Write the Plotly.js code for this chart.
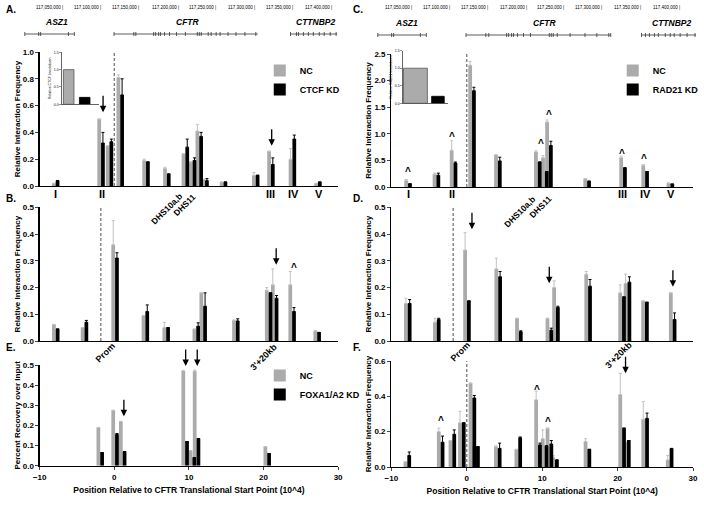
<!DOCTYPE html>
<html><head><meta charset="utf-8">
<script src="https://cdn.plot.ly/plotly-3.0.1.min.js"></script>
<style>html,body{margin:0;padding:0;background:#fff}#chart{width:704px;height:528px}</style>
</head><body><div id="chart"></div>
<script>
// ---------------- DATA ----------------
// Panel A (CTCF KD)
const posA = [-7.85, -1.77, -0.64, 0.8, 4.26, 7.05, 9.53, 10.5, 11.39, 12.17, 14.65, 18.96, 21.0, 23.88, 27.3];
const ncA  = [0.02, 0.50, 0.30, 0.81, 0.19, 0.13, 0.24, 0.18, 0.41, 0.05, 0.03, 0.08, 0.26, 0.20, 0.02];
const ncAe = [0, 0, 0, 0.02, 0.01, 0.01, 0, 0, 0.05, 0, 0, 0.02, 0, 0.08, 0];
const kdA  = [0.04, 0.32, 0.33, 0.68, 0.18, 0.09, 0.29, 0.19, 0.37, 0.04, 0.03, 0.08, 0.16, 0.35, 0.03];
const kdAe = [0, 0.08, 0.02, 0.12, 0, 0, 0.06, 0.02, 0.03, 0.015, 0, 0, 0.05, 0.03, 0];
// Panel B
const posB = [-7.84, -3.99, 0.11, 4.17, 6.96, 10.99, 11.92, 16.3, 20.69, 21.5, 23.84, 27.2];
const ncB  = [0.062, 0.05, 0.36, 0.095, 0.05, 0.045, 0.18, 0.078, 0.19, 0.21, 0.21, 0.038];
const ncBe = [0, 0, 0.09, 0, 0.02, 0, 0, 0, 0.01, 0.06, 0.05, 0];
const kdB  = [0.045, 0.07, 0.31, 0.11, 0.05, 0.055, 0.13, 0.075, 0.18, 0.16, 0.11, 0.032];
const kdBe = [0, 0.007, 0.02, 0.025, 0, 0.013, 0.05, 0.008, 0, 0.01, 0.015, 0];
// Panel E (FOXA1/A2 KD)
const posE = [-1.88, 0.11, 1.13, 9.5, 10.48, 11.03, 20.5];
const ncE  = [0.19, 0.275, 0.22, 0.47, 0.075, 0.47, 0.095];
const ncEe = [0, 0, 0, 0.003, 0, 0.005, 0];
const kdE  = [0.065, 0.155, 0.07, 0.12, 0.04, 0.135, 0.06];
const kdEe = [0, 0.005, 0, 0, 0, 0, 0];
// Panel C (RAD21 KD)
const posC = [-7.78, -4.02, -1.75, 0.7, 4.13, 9.42, 10.36, 10.9, 15.96, 20.72, 23.65, 27.0];
const ncC  = [0.12, 0.24, 0.69, 2.29, 0.60, 0.66, 0.55, 1.22, 0.156, 0.55, 0.41, 0.075];
const ncCe = [0.02, 0.02, 0.18, 0.07, 0.01, 0.02, 0.04, 0.04, 0, 0.03, 0.01, 0];
const kdC  = [0.06, 0.22, 0.45, 1.81, 0.49, 0.47, 0.29, 0.78, 0.11, 0.36, 0.29, 0.056];
const kdCe = [0, 0.04, 0.02, 0.065, 0.07, 0, 0, 0.08, 0, 0, 0, 0];
// Panel D
const posD = [-7.82, -3.97, 0.03, 4.17, 6.91, 10.95, 11.83, 16.09, 20.59, 21.31, 23.63, 27.3];
const ncD  = [0.14, 0.07, 0.34, 0.27, 0.085, 0.085, 0.20, 0.25, 0.18, 0.215, 0.15, 0.18];
const ncDe = [0.02, 0.015, 0.065, 0.04, 0, 0, 0.025, 0.01, 0.03, 0.035, 0, 0];
const kdD  = [0.14, 0.08, 0.15, 0.24, 0.035, 0.04, 0.125, 0.205, 0.165, 0.22, 0.145, 0.08];
const kdDe = [0.015, 0.005, 0, 0.02, 0.003, 0.008, 0.005, 0.025, 0, 0.02, 0, 0.025];
// Panel F
const posF = [-7.88, -3.46, -1.91, -0.65, 0.75, 1.23, 4.11, 6.83, 9.45, 10.32, 10.96, 11.7, 16.0, 20.6, 21.23, 23.65, 26.9];
const ncF  = [0.03, 0.2, 0.15, 0.25, 0.475, 0.12, 0.115, 0.10, 0.38, 0.16, 0.22, 0.055, 0.145, 0.41, 0.14, 0.27, 0.04];
const ncFe = [0, 0.02, 0, 0.065, 0, 0, 0.005, 0, 0.05, 0.05, 0, 0.01, 0.015, 0.12, 0, 0.1, 0.025];
const kdF  = [0.065, 0.14, 0.185, 0.25, 0.39, 0.115, 0.105, 0.165, 0.125, 0.12, 0.13, 0.04, 0.10, 0.22, 0.15, 0.275, 0.105];
const kdFe = [0.02, 0.035, 0.025, 0, 0.015, 0, 0.03, 0.005, 0.01, 0, 0.02, 0, 0, 0, 0, 0.03, 0];
// Insets (knockdown efficiency)
const insetA = [1.0, 0.2];
const insetC = [1.0, 0.2];
// Dashed reference positions (x10^4)
const dashA = 0, dashB = -1.8, dashC = 0, dashD = -1.8, dashF = 0;
// Arrow / caret marks [x, y]
const arrowsA = [[-1.5, 0.55], [21.1, 0.30]];
const arrowsB = [[21.7, 0.285]];
const caretsB = [[24.1, 0.275]];
const arrowsE = [[1.29, 0.245], [9.57, 0.495], [11.12, 0.495]];
const caretsC = [[-7.78, 0.30], [-1.93, 0.95], [9.84, 0.82], [10.85, 1.37], [20.6, 0.63], [23.5, 0.54]];
const arrowsD = [[0.69, 0.418], [10.94, 0.216], [27.33, 0.203]];
const caretsF = [[-3.36, 0.262], [9.36, 0.436], [10.8, 0.256]];
const arrowsF = [[21.05, 0.53]];
// Genomic coordinate labels
const coordLabels = ['117,050,000 |', '117,100,000 |', '117,150,000 |', '117,200,000 |', '117,250,000 |', '117,300,000 |', '117,350,000 |', '117,400,000 |'];
const geneNames = ['ASZ1', 'CFTR', 'CTTNBP2'];
const romans = ['I', 'II', 'III', 'IV', 'V'];

// ---------------- HELPERS ----------------
const W = 704, H = 528;
const px = x => x / W, py = y => 1 - y / H;
const FF = '"Liberation Sans", Arial, sans-serif';
const GRAY = '#ababab', GRAYERR = '#c2c2c2', BLACK = '#000';
const BW = 0.5;

function pair(pos, nc, nce, kd, kde, xa, ya, leg, kdName) {
  const zeros = pos.map(() => 0);
  const base = {type: 'bar', x: pos, xaxis: xa, yaxis: ya, width: BW, hoverinfo: 'skip'};
  const t1 = Object.assign({}, base, {
    y: nc, offset: -BW, name: 'NC', marker: {color: GRAY},
    error_y: {type: 'data', array: nce, arrayminus: zeros, symmetric: false, color: GRAYERR, thickness: 1, width: 1.5},
    showlegend: !!leg, legend: leg || 'legend'
  });
  const t2 = Object.assign({}, base, {
    y: kd, offset: 0, name: kdName || 'KD', marker: {color: BLACK},
    error_y: {type: 'data', array: kde, arrayminus: zeros, symmetric: false, color: BLACK, thickness: 1, width: 1.5},
    showlegend: !!leg, legend: leg || 'legend'
  });
  return [t1, t2];
}

const traces = [].concat(
  pair(posA, ncA, ncAe, kdA, kdAe, 'x', 'y', 'legend', 'CTCF KD'),
  pair(posB, ncB, ncBe, kdB, kdBe, 'x2', 'y2'),
  pair(posE, ncE, ncEe, kdE, kdEe, 'x3', 'y3', 'legend3', 'FOXA1/A2 KD'),
  pair(posC, ncC, ncCe, kdC, kdCe, 'x4', 'y4', 'legend2', 'RAD21 KD'),
  pair(posD, ncD, ncDe, kdD, kdDe, 'x5', 'y5'),
  pair(posF, ncF, ncFe, kdF, kdFe, 'x6', 'y6')
);
traces.push({type: 'bar', x: [0, 1], y: insetA, xaxis: 'x7', yaxis: 'y7', width: [0.66, 0.66], showlegend: false, hoverinfo: 'skip',
  marker: {color: [GRAY, BLACK], line: {color: ['#555', '#000'], width: 0.8}}});
traces.push({type: 'bar', x: [0, 1], y: insetC, xaxis: 'x8', yaxis: 'y8', width: [1.06, 0.56], showlegend: false, hoverinfo: 'skip',
  marker: {color: [GRAY, BLACK], line: {color: ['#555', '#000'], width: 0.8}}});

const tickFont = {family: FF, size: 8, color: '#000', weight: 'bold'};
const titleFont = {family: FF, size: 8, color: '#000', weight: 'bold'};
function xax(d, anchor, labels) {
  const a = {domain: d, anchor: anchor, range: [-10, 30], showline: true, linecolor: '#000', linewidth: 1.2,
    showgrid: false, zeroline: false, fixedrange: true};
  if (labels) {
    Object.assign(a, {ticks: 'outside', ticklen: 3, tickwidth: 1, tick0: -10, dtick: 10, tickfont: tickFont,
      title: {text: 'Position Relative to CFTR Translational Start Point (10^4)', font: {family: FF, size: 8.5, color: '#000', weight: 'bold'}, standoff: 6}});
  } else {
    Object.assign(a, {ticks: '', showticklabels: false});
  }
  return a;
}
function yax(d, anchor, max, dtick, title) {
  return {domain: d, anchor: anchor, range: [0, max], dtick: dtick, tick0: 0, tickformat: '.1f',
    showline: true, linecolor: '#000', linewidth: 1.2, ticks: 'outside', ticklen: 3, tickwidth: 1,
    showgrid: false, zeroline: false, tickfont: tickFont, fixedrange: true,
    title: {text: title, font: titleFont, standoff: 1}};
}
const xL = [px(40), px(341)], xR = [px(394.7), px(699)];
const RIF = 'Relative Interaction Frequency';
const legFont = {family: FF, size: 9, color: '#000', weight: 'bold'};

const layout = {
  width: W, height: H, margin: {l: 0, r: 0, t: 0, b: 0}, paper_bgcolor: '#fff', plot_bgcolor: 'rgba(0,0,0,0)',
  barmode: 'overlay', font: {family: FF, color: '#000'},
  xaxis: xax(xL, 'y'), yaxis: yax([py(186), py(52)], 'x', 1.0, 0.2, RIF),
  xaxis2: xax(xL, 'y2'), yaxis2: yax([py(341), py(207.3)], 'x2', 0.5, 0.1, RIF),
  xaxis3: xax(xL, 'y3', true), yaxis3: yax([py(465.7), py(365)], 'x3', 0.5, 0.1, 'Percent Recovery over Input'),
  xaxis4: xax(xR, 'y4'), yaxis4: yax([py(187), py(54)], 'x4', 2.5, 0.5, RIF),
  xaxis5: xax(xR, 'y5'), yaxis5: yax([py(341), py(207.3)], 'x5', 0.5, 0.1, RIF),
  xaxis6: xax(xR, 'y6', true), yaxis6: yax([py(467), py(361)], 'x6', 0.6, 0.2, RIF),
  xaxis7: {domain: [px(62), px(100)], anchor: 'y7', range: [-0.45, 1.9], showline: true, linewidth: 0.6, linecolor: '#000',
    showgrid: false, zeroline: false, ticks: '', showticklabels: false, fixedrange: true},
  yaxis7: {domain: [py(104.3), py(52.3)], anchor: 'x7', range: [0, 1.5], dtick: 0.5, tickformat: '.1f', showline: true, linewidth: 0.6,
    linecolor: '#000', ticks: 'outside', ticklen: 1.5, tickwidth: 0.6, showgrid: false, zeroline: false, fixedrange: true,
    tickfont: {family: FF, size: 3.5, color: '#000'}, title: {text: 'Relative CTCF knockdown', font: {family: FF, size: 3.5, color: '#000'}, standoff: 2}},
  xaxis8: {domain: [px(406), px(452)], anchor: 'y8', range: [-0.573, 1.454], showline: true, linewidth: 0.6, linecolor: '#000',
    showgrid: false, zeroline: false, ticks: '', showticklabels: false, fixedrange: true},
  yaxis8: {domain: [py(103.3), py(50.7)], anchor: 'x8', range: [0, 1.5], dtick: 0.5, tickformat: '.1f', showline: true, linewidth: 0.6,
    linecolor: '#000', ticks: 'outside', ticklen: 1.5, tickwidth: 0.6, showgrid: false, zeroline: false, fixedrange: true,
    tickfont: {family: FF, size: 3.5, color: '#000'}, title: {text: 'Relative RAD21 knockdown', font: {family: FF, size: 3.5, color: '#000'}, standoff: 2}},
  legend: {x: px(262), y: py(56), xanchor: 'left', yanchor: 'top', bgcolor: 'rgba(0,0,0,0)', itemwidth: 30,
    font: legFont, tracegroupgap: 0, itemclick: false},
  legend2: {x: px(618), y: py(56), xanchor: 'left', yanchor: 'top', bgcolor: 'rgba(0,0,0,0)', itemwidth: 30,
    font: legFont, tracegroupgap: 0, itemclick: false},
  legend3: {x: px(262), y: py(361), xanchor: 'left', yanchor: 'top', bgcolor: 'rgba(0,0,0,0)', itemwidth: 30,
    font: legFont, tracegroupgap: 0, itemclick: false},
  shapes: [], annotations: []
};

// dashed reference lines
[[dashA, 'x', 'y'], [dashB, 'x2', 'y2'], [dashC, 'x4', 'y4'], [dashD, 'x5', 'y5'], [dashF, 'x6', 'y6']].forEach(d => {
  layout.shapes.push({type: 'line', xref: d[1], yref: d[2] + ' domain', x0: d[0], x1: d[0], y0: 0, y1: 1,
    line: {color: '#777', width: 1.3, dash: '3px,2px'}});
});

function arrows(list, xa, ya) {
  list.forEach(p => layout.annotations.push({xref: xa, yref: ya, x: p[0], y: p[1], ax: 0, ay: -18, text: '', showarrow: true,
    arrowhead: 2, arrowsize: 1, arrowwidth: 1.3, arrowcolor: '#000'}));
}
function carets(list, xa, ya) {
  list.forEach(p => layout.annotations.push({xref: xa, yref: ya, x: p[0], y: p[1], text: '^', showarrow: false,
    font: {family: FF, size: 10, color: '#000', weight: 'bold'}}));
}
arrows(arrowsA, 'x', 'y'); arrows(arrowsB, 'x2', 'y2'); carets(caretsB, 'x2', 'y2');
arrows(arrowsE, 'x3', 'y3'); carets(caretsC, 'x4', 'y4'); arrows(arrowsD, 'x5', 'y5');
carets(caretsF, 'x6', 'y6'); arrows(arrowsF, 'x6', 'y6');

function txt(t, x, y, size, opts) {
  layout.annotations.push(Object.assign({xref: 'paper', yref: 'paper', x: px(x), y: py(y), text: t, showarrow: false,
    xanchor: 'center', yanchor: 'middle', font: {family: FF, size: size, color: '#000', weight: 'bold'}}, opts || {}));
}
// panel letters
txt('A.', 4, 9, 10, {xanchor: 'left'}); txt('B.', 4, 198, 10, {xanchor: 'left'}); txt('E.', 4, 347, 10, {xanchor: 'left'});
txt('C.', 354, 9, 10, {xanchor: 'left'}); txt('D.', 354, 198, 10, {xanchor: 'left'}); txt('F.', 354, 347, 10, {xanchor: 'left'});

// genomic tracks
const coordXA = [34, 73, 111, 151, 189, 228, 266, 306];
const coordXC = [386, 425, 463, 502, 540, 578, 617, 657];
coordLabels.forEach((t, i) => {
  txt(t, coordXA[i], 7.5, 4.5, {xanchor: 'left', font: {family: FF, size: 4.5, color: '#000'}});
  txt(t, coordXC[i], 8, 4.5, {xanchor: 'left', font: {family: FF, size: 4.5, color: '#000'}});
});
const gnFont = {family: FF, size: 8.5, color: '#000', weight: 'bold', style: 'italic'};
[[57, 190, 318], [410, 550, 677]].forEach((xs, k) => {
  geneNames.forEach((g, i) => txt(g, xs[i], k ? 23 : 22, 8.5, {font: gnFont}));
});
function gene(x0, x1, y, exons) {
  layout.shapes.push({type: 'line', xref: 'paper', yref: 'paper', x0: px(x0), x1: px(x1), y0: py(y), y1: py(y), line: {color: '#333', width: 0.8}});
  exons.forEach(e => layout.shapes.push({type: 'line', xref: 'paper', yref: 'paper', x0: px(e), x1: px(e), y0: py(y - 2), y1: py(y + 2), line: {color: '#333', width: 0.8}}));
}
gene(25, 75, 34, [25, 39, 41, 69, 75]);
gene(115, 260, 34, [115, 135, 137, 155, 157, 160, 162, 166, 171, 178, 187, 199, 201, 203, 210, 213, 218, 222, 230, 238, 247, 258]);
gene(293, 340, 34, [293, 299, 301, 306, 311, 316, 322, 327, 333, 339]);
gene(381, 430, 35, [381, 395, 397, 424, 430]);
gene(470, 616, 35, [470, 490, 493, 511, 513, 516, 518, 522, 528, 535, 554, 556, 558, 562, 575, 590, 602, 614, 616]);
gene(647, 702, 35, [647, 651, 655, 660, 664, 671, 676, 680, 686, 693, 701]);

// region labels
const romXA = [56, 102.7, 273, 296.5, 321.5], romXC = [412, 456, 627.5, 651, 677];
romans.forEach((r, i) => { txt(r, romXA[i], 194, 11); txt(r, romXC[i], 194, 11); });
const rot = {textangle: -45};
txt('DHS10a,b', 168, 209, 8.5, rot); txt('DHS11', 186, 205, 8.5, rot);
txt('DHS10a,b', 524, 212, 8.5, rot); txt('DHS11', 545, 207, 8.5, rot);
txt('Prom', 106, 353, 9, rot); txt("3'+20kb", 266, 357, 9, rot);
txt('Prom', 464, 352, 9, rot); txt("3'+20kb", 624, 355, 9, rot);

Plotly.newPlot('chart', traces, layout, {staticPlot: true, displayModeBar: false});
</script></body></html>
